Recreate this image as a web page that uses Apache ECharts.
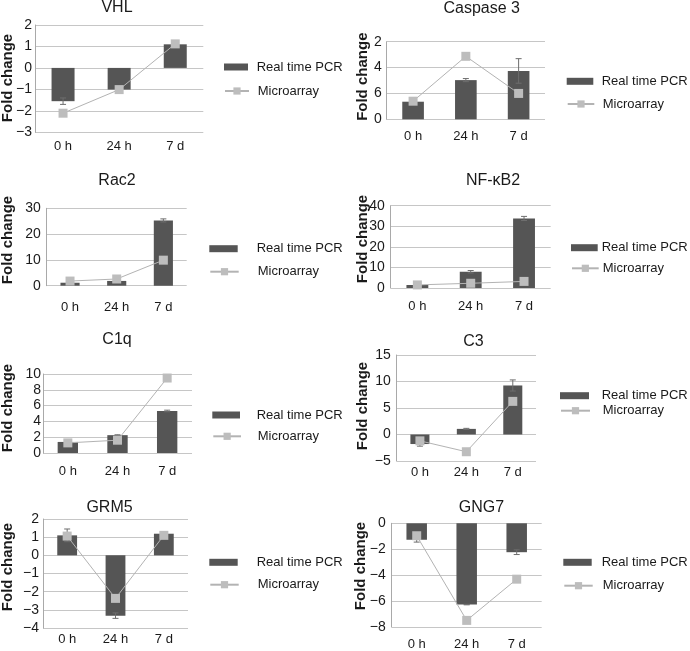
<!DOCTYPE html>
<html><head><meta charset="utf-8">
<script src="https://cdn.jsdelivr.net/npm/echarts@6/dist/echarts.min.js"></script>
<style>html,body{margin:0;padding:0;background:#fff}#c{width:690px;height:651px}</style>
</head><body><div id="c"></div>
<script>
// ---------- data ----------
const categories = ['0 h', '24 h', '7 d'];
const seriesNames = ['Real time PCR', 'Microarray'];
const yAxisTitle = 'Fold change';

const vhlPCR = [-1.55, -1.01, 1.10];
const vhlPCRErr = [0.15, 0.03, 0.05];
const vhlMicro = [-2.11, -1.01, 1.12];
const vhlTicks = ['−3', '−2', '−1', '0', '1', '2'];

const caspPCR = [1.36, 3.03, 3.74];
const caspPCRErr = [0.05, 0.12, 0.95];
const caspMicro = [1.40, 4.87, 2.00];
const caspTicks = ['0', '6', '4', '2'];

const rac2PCR = [1.15, 1.85, 25.3];
const rac2PCRErr = [0.15, 0.15, 0.6];
const rac2Micro = [1.8, 2.6, 9.9];
const rac2Ticks = ['0', '10', '20', '30'];

const nfkbPCR = [1.46, 7.9, 33.8];
const nfkbPCRErr = [0.2, 0.6, 1.0];
const nfkbMicro = [1.5, 2.3, 3.2];
const nfkbTicks = ['0', '10', '20', '30', '40'];

const c1qPCR = [1.40, 2.26, 5.32];
const c1qPCRErr = [0.05, 0.05, 0.1];
const c1qMicro = [1.28, 1.62, 9.49];
const c1qTicks = ['0', '2', '4', '6', '8', '10'];

const c3PCR = [-1.8, 1.06, 9.25];
const c3PCRErr = [0.4, 0.1, 1.05];
const c3Micro = [-1.2, -3.25, 6.25];
const c3Ticks = ['−5', '0', '5', '10', '15'];

const grm5PCR = [1.10, -3.32, 1.19];
const grm5PCRErr = [0.35, 0.15, 0.1];
const grm5Micro = [1.06, -2.37, 1.10];
const grm5Ticks = ['−4', '−3', '−2', '−1', '0', '1', '2'];

const gng7PCR = [-1.27, -6.27, -2.23];
const gng7PCRErr = [0.18, 0.02, 0.18];
const gng7Micro = [-0.96, -7.49, -4.31];
const gng7Ticks = ['−8', '−6', '−4', '−2', '0'];

// ---------- panels (data refs + layout) ----------
const panels = [
  {title:'VHL', pcr:vhlPCR, err:vhlPCRErr, micro:vhlMicro, ticks:vhlTicks, min:-3, max:2, step:1,
   grid:[35,25,168.3,107.3], t:[117,7.5], yn:[8,78], xm:8, ym:3, lg:{x:224,w:24,y1:68,y2:92,tx:256.7}},
  {title:'Caspase 3', pcr:caspPCR, err:caspPCRErr, micro:caspMicro, ticks:caspTicks, min:0, max:6, step:2,
   grid:[386.7,41.7,158.3,77.6], t:[481.7,8.3], yn:[362.5,76.7], xm:11, ym:5, lg:{x:566.7,w:26.6,y1:82.3,y2:105,tx:601.7}},
  {title:'Rac2', pcr:rac2PCR, err:rac2PCRErr, micro:rac2Micro, ticks:rac2Ticks, min:0, max:30, step:10,
   grid:[46.7,208.3,140,77.4], t:[117,181], yn:[7.5,240], xm:15, ym:6, lg:{x:209.3,w:28.4,y1:249.7,y2:272.7,tx:256.7}},
  {title:'NF-κB2', pcr:nfkbPCR, err:nfkbPCRErr, micro:nfkbMicro, ticks:nfkbTicks, min:0, max:40, step:10,
   grid:[390.7,205.7,160,82.3], t:[493,181], yn:[362.5,239], xm:12, ym:6, lg:{x:571,w:26.7,y1:248.7,y2:269.3,tx:601.7}},
  {title:'C1q', pcr:c1qPCR, err:c1qPCRErr, micro:c1qMicro, ticks:c1qTicks, min:0, max:10, step:2,
   grid:[43,374,149,79], t:[117,340], yn:[7.5,408], xm:12, ym:2, lg:{x:212.3,w:27.7,y1:416,y2:437.3,tx:256.7}},
  {title:'C3', pcr:c3PCR, err:c3PCRErr, micro:c3Micro, ticks:c3Ticks, min:-5, max:15, step:5,
   grid:[396.7,355,139.3,106], t:[473.5,342], yn:[362.5,406], xm:5, ym:6, lg:{x:560,w:29,y1:396.7,y2:411.7,tx:601.7}},
  {title:'GRM5', pcr:grm5PCR, err:grm5PCRErr, micro:grm5Micro, ticks:grm5Ticks, min:-4, max:2, step:1,
   grid:[43,519,145,109], t:[109.5,508], yn:[7.5,567], xm:5, ym:4, lg:{x:209.3,w:28.4,y1:563.3,y2:585.7,tx:256.7}},
  {title:'GNG7', pcr:gng7PCR, err:gng7PCRErr, micro:gng7Micro, ticks:gng7Ticks, min:-8, max:0, step:2,
   grid:[391.7,523.3,150,105], t:[481.5,508], yn:[361,566], xm:11, ym:6, lg:{x:563.3,w:28.4,y1:563.3,y2:586.7,tx:601.7}}
];

const FONT = 'Liberation Sans, Arial, sans-serif';
const BAR = '#555555', MARK = '#bdbdbd', LINE = '#b3b3b3', GRIDC = '#c6c6c6', TXT = '#1a1a1a';

const option = {
  animation: false,
  backgroundColor: '#ffffff',
  grid: [], xAxis: [], yAxis: [], series: [], legend: [], graphic: []
};

panels.forEach((p, i) => {
  option.grid.push({left:p.grid[0], top:p.grid[1], width:p.grid[2], height:p.grid[3]});
  option.xAxis.push({
    type:'category', gridIndex:i, data:categories,
    axisLine:{show:false, onZero:false}, axisTick:{show:false}, splitLine:{show:false},
    axisLabel:{margin:p.xm, fontSize:13, color:TXT, fontFamily:FONT}
  });
  option.yAxis.push({
    type:'value', gridIndex:i, min:p.min, max:p.max, interval:p.step,
    axisLine:{show:true, lineStyle:{color:'#a9a9a9', width:1}}, axisTick:{show:false},
    splitLine:{show:true, lineStyle:{color:GRIDC, width:1}},
    axisLabel:{margin:p.ym, fontSize:14, color:TXT, fontFamily:FONT,
      formatter:(v) => p.ticks[Math.round((v - p.min) / p.step)]}
  });
  option.series.push({
    type:'bar', name:seriesNames[0], xAxisIndex:i, yAxisIndex:i, data:p.pcr,
    barWidth:'41%', itemStyle:{color:BAR}, z:2
  });
  option.series.push({
    type:'custom', xAxisIndex:i, yAxisIndex:i, z:3,
    data:p.pcr.map((v, j) => [j, v, p.err[j]]),
    renderItem:(params, api) => {
      const x = api.value(0), v = api.value(1), e = api.value(2);
      const a = api.coord([x, v + e]), b = api.coord([x, v - e]);
      const hw = 3;
      const st = {stroke:'#6e6e6e', lineWidth:1};
      return {type:'group', children:[
        {type:'line', shape:{x1:a[0], y1:a[1], x2:b[0], y2:b[1]}, style:st},
        {type:'line', shape:{x1:a[0]-hw, y1:a[1], x2:a[0]+hw, y2:a[1]}, style:st},
        {type:'line', shape:{x1:b[0]-hw, y1:b[1], x2:b[0]+hw, y2:b[1]}, style:st}
      ]};
    }
  });
  option.series.push({
    type:'line', name:seriesNames[1], xAxisIndex:i, yAxisIndex:i, data:p.micro,
    symbol:'rect', symbolSize:9, itemStyle:{color:MARK}, lineStyle:{color:LINE, width:1}, z:4
  });
  const L = p.lg;
  option.legend.push({
    data:[seriesNames[0]], left:L.x, top:L.y1 - 7.5, itemWidth:L.w, itemHeight:7, icon:'rect',
    padding:0, selectedMode:false,
    textStyle:{fontSize:13, color:TXT, fontFamily:FONT, padding:[0,0,0, L.tx - L.x - L.w - 5]}
  });
  option.legend.push({
    data:[seriesNames[1]], left:L.x, top:L.y2 - 7.5, itemWidth:L.w, itemHeight:9,
    padding:0, selectedMode:false,
    textStyle:{fontSize:13, color:TXT, fontFamily:FONT, padding:[0,0,0, L.tx - L.x - L.w - 5]}
  });
  option.graphic.push({
    type:'text', x:p.t[0], y:p.t[1],
    style:{text:p.title, font:'16px ' + FONT, fill:TXT, align:'center', verticalAlign:'middle',
           textAlign:'center', textVerticalAlign:'middle'}
  });
  option.graphic.push({
    type:'text', x:p.yn[0], y:p.yn[1], rotation:Math.PI / 2,
    style:{text:yAxisTitle, font:'bold 15px ' + FONT, fill:TXT, align:'center', verticalAlign:'middle',
           textAlign:'center', textVerticalAlign:'middle'}
  });
});

const chart = echarts.init(document.getElementById('c'), null, {renderer:'canvas'});
chart.setOption(option);
</script></body></html>
